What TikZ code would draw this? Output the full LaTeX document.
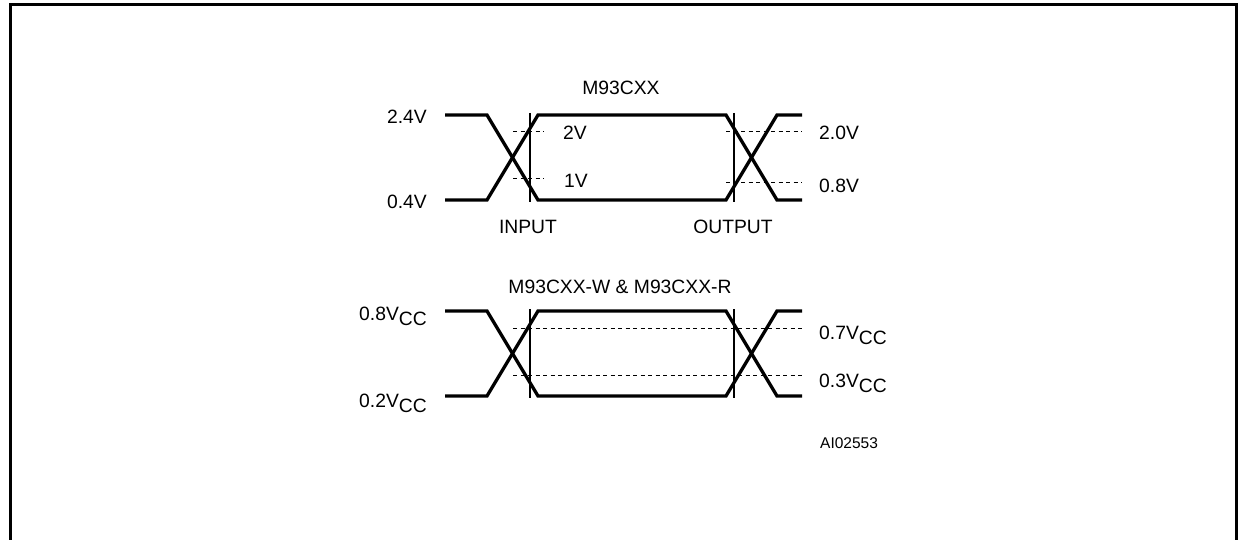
\documentclass[tikz,border=0pt]{standalone}
\usepackage{fontspec}
\setmainfont{Liberation Sans}
\begin{document}
\begin{tikzpicture}[x=1pt,y=-1pt,
  wave/.style={line width=3.3pt, line join=miter},
  marker/.style={line width=1.2pt},
  level/.style={line width=1pt, dash pattern=on 4pt off 3.5pt},
  frame/.style={line width=3pt},
  lbl/.style={inner sep=0pt, font=\fontsize{19.3}{21}\selectfont},
  sml/.style={inner sep=0pt, font=\fontsize{15.5}{17}\selectfont}]
\useasboundingbox (0,0) rectangle (1241,540);
% frame
\coordinate (fbl) at (10,541);
\coordinate (ftl) at (10,5);
\coordinate (ftr) at (1236,5);
\coordinate (fbr) at (1236,541);
\draw[frame] (fbl) -- (ftl) -- (ftr) -- (fbr);

% ===== top diagram =====
\coordinate (a1) at (445,115); \coordinate (a2) at (487,115); \coordinate (a3) at (538,200);
\coordinate (a4) at (726,200); \coordinate (a5) at (777,115); \coordinate (a6) at (802,115);
\coordinate (b1) at (445,200); \coordinate (b2) at (487,200); \coordinate (b3) at (538,115);
\coordinate (b4) at (726,115); \coordinate (b5) at (777,200); \coordinate (b6) at (802,200);
\draw[wave] (a1) -- (a2) -- (a3) -- (a4) -- (a5) -- (a6);
\draw[wave] (b1) -- (b2) -- (b3) -- (b4) -- (b5) -- (b6);
\coordinate (vi1) at (530,113); \coordinate (vi2) at (530,202);
\coordinate (vo1) at (734,113); \coordinate (vo2) at (734,202);
\draw[marker] (vi1) -- (vi2);
\draw[marker] (vo1) -- (vo2);
\coordinate (d1a) at (513,132); \coordinate (d1b) at (544,132);
\coordinate (d2a) at (513,179); \coordinate (d2b) at (544,179);
\coordinate (d3a) at (726,132); \coordinate (d3b) at (802,132);
\coordinate (d4a) at (726,183); \coordinate (d4b) at (802,183);
\draw[level] (d1a) -- (d1b);
\draw[level] (d2a) -- (d2b);
\draw[level] (d3a) -- (d3b);
\draw[level] (d4a) -- (d4b);
\node[lbl, anchor=east] (l24) at (427,117) {2.4V};
\node[lbl, anchor=east] (l04) at (427,202) {0.4V};
\node[lbl, anchor=west] (l2) at (563,133) {2V};
\node[lbl, anchor=west] (l1) at (564,181) {1V};
\node[lbl, anchor=west] (l20) at (819,133) {2.0V};
\node[lbl, anchor=west] (l08) at (819,186) {0.8V};
\node[lbl] (t1) at (621,88) {M93CXX};
\node[lbl] (inp) at (528,227) {INPUT};
\node[lbl] (outp) at (733,227) {OUTPUT};

% ===== bottom diagram =====
\coordinate (c1) at (445,311); \coordinate (c2) at (487,311); \coordinate (c3) at (538,396);
\coordinate (c4) at (726,396); \coordinate (c5) at (777,311); \coordinate (c6) at (802,311);
\coordinate (e1) at (445,396); \coordinate (e2) at (487,396); \coordinate (e3) at (538,311);
\coordinate (e4) at (726,311); \coordinate (e5) at (777,396); \coordinate (e6) at (802,396);
\draw[wave] (c1) -- (c2) -- (c3) -- (c4) -- (c5) -- (c6);
\draw[wave] (e1) -- (e2) -- (e3) -- (e4) -- (e5) -- (e6);
\coordinate (wi1) at (530,309); \coordinate (wi2) at (530,398);
\coordinate (wo1) at (734,309); \coordinate (wo2) at (734,398);
\draw[marker] (wi1) -- (wi2);
\draw[marker] (wo1) -- (wo2);
\coordinate (g1a) at (513,328); \coordinate (g1b) at (802,328);
\coordinate (g2a) at (513,375); \coordinate (g2b) at (802,375);
\draw[level] (g1a) -- (g1b);
\draw[level] (g2a) -- (g2b);
\newcommand{\vcc}[1]{#1V\raisebox{-5pt}{CC}}
\node[lbl, anchor=base east] (l08c) at (427,320) {\vcc{0.8}};
\node[lbl, anchor=base east] (l02c) at (427,407) {\vcc{0.2}};
\node[lbl, anchor=base west] (l07c) at (819,339) {\vcc{0.7}};
\node[lbl, anchor=base west] (l03c) at (819,387) {\vcc{0.3}};
\node[lbl] (t2) at (620,287) {M93CXX-W \& M93CXX-R};
\node[sml, anchor=west] (ai) at (820,443) {AI02553};
\end{tikzpicture}
\end{document}
